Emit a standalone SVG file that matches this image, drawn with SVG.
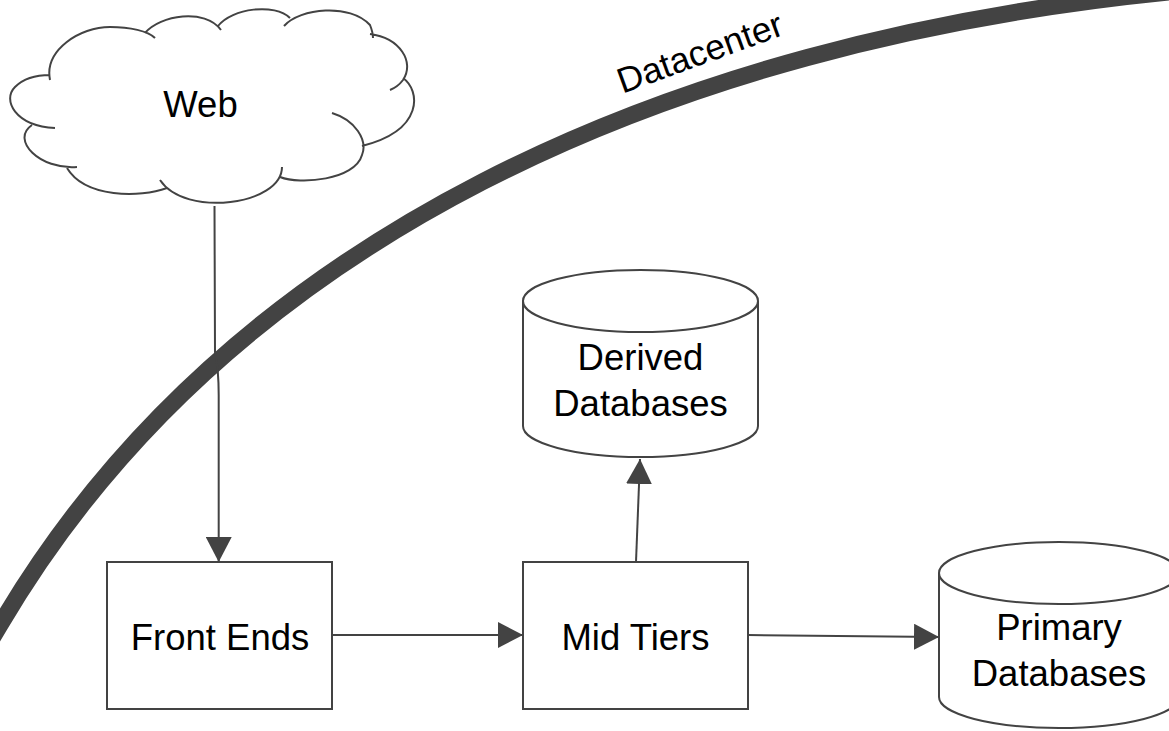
<svg xmlns="http://www.w3.org/2000/svg" width="1169" height="731" viewBox="0 0 1169 731">
<style>
.shape{fill:#ffffff;stroke:#434343;stroke-width:2}
.line{fill:none;stroke:#434343;stroke-width:2}
.lbl{font-family:"Liberation Sans",Arial,sans-serif;font-size:36.5px;fill:#000000;text-anchor:middle}
</style>
<defs>
<marker id="arrow" markerUnits="userSpaceOnUse" viewBox="0 0 25 26" refX="25" refY="13" markerWidth="25" markerHeight="26" orient="auto">
<path d="M0,0 L25,13 L0,26 z" fill="#434343"/>
</marker>
</defs>
<rect width="1169" height="731" fill="#ffffff"/>
<g id="datacenter">
<path d="M-18,655 L0,625 C228,237 669,42 1169,-8 L1200,-11" fill="none" stroke="#434343" stroke-width="17"/>
<text class="lbl" style="font-size:35.5px" transform="translate(704,64) rotate(-20)" x="0" y="0">Datacenter</text>
</g>
<g id="web">
<path class="line" d="M55,128 C15,126 2,100 15,87 C25,77 40,75 50,75
M50,80 C44,50 80,27 110,27 C130,27 148,31 155,38
M145,33 C160,15 205,8 221,30
M218,26 C232,8 275,3 290,18
M284,26 C300,8 350,3 370,25 C372,30 373,34 373,38
M370,34 C400,38 415,62 403,80 C400,84 395,88 390,90
M403,78 C420,90 425,130 362,146
M332,113 C355,120 368,140 362,155 C355,180 300,185 280,177
M282,167 C282,205 185,218 160,180
M167,188 C140,198 85,198 67,168
M77,167 C40,170 10,140 32,125"/>
<text class="lbl" x="200.5" y="117">Web</text>
</g>
<g id="front-ends">
<rect class="shape" x="107" y="562" width="225" height="147"/>
<text class="lbl" x="220" y="650">Front Ends</text>
</g>
<g id="mid-tiers">
<rect class="shape" x="523" y="562" width="225" height="147"/>
<text class="lbl" x="635.5" y="650">Mid Tiers</text>
</g>
<g id="derived-databases">
<path class="shape" d="M523,301 L523,426 A117.5,31 0 0 0 758,426 L758,301 A117.5,31 0 0 0 523,301 Z"/>
<path class="line" d="M523,301 A117.5,31 0 0 0 758,301"/>
<text class="lbl" x="640.5" y="370">Derived</text>
<text class="lbl" x="640.5" y="416">Databases</text>
</g>
<g id="primary-databases">
<path class="shape" d="M939,573 L939,697 A120,31 0 0 0 1179,697 L1179,573 A120,31 0 0 0 939,573 Z"/>
<path class="line" d="M939,573 A120,31 0 0 0 1179,573"/>
<text class="lbl" x="1059" y="640">Primary</text>
<text class="lbl" x="1059" y="686">Databases</text>
</g>
<g id="connectors">
<path class="line" d="M214.5,206 L215,352 Q218.7,370 218.7,395 L218.7,562" marker-end="url(#arrow)"/>
<path class="line" d="M332,635 L523,635" marker-end="url(#arrow)"/>
<path class="line" d="M636,562 L640,459" marker-end="url(#arrow)"/>
<path class="line" d="M748,635 L939,637" marker-end="url(#arrow)"/>
</g>
</svg>
